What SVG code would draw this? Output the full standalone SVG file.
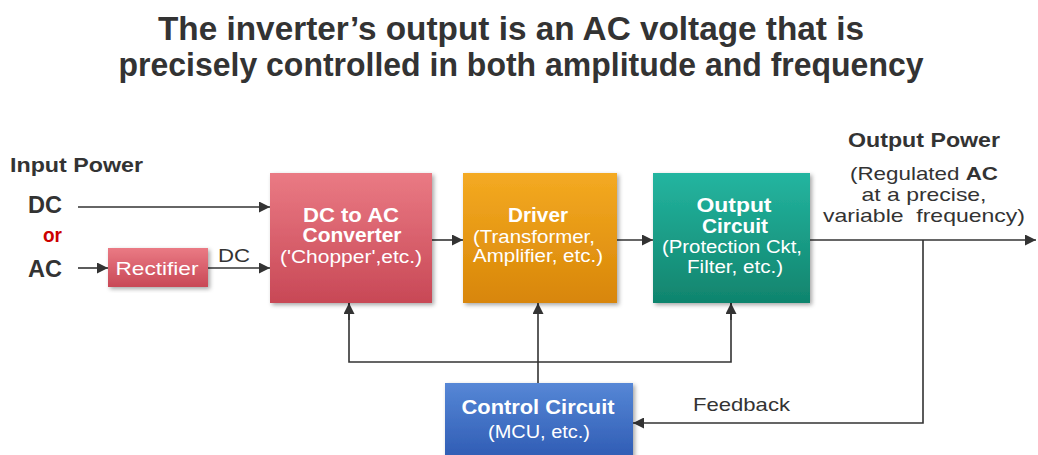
<svg xmlns="http://www.w3.org/2000/svg" width="1038" height="455" viewBox="0 0 1038 455">
<defs>
<linearGradient id="gRed" x1="0" y1="0" x2="0" y2="1"><stop offset="0" stop-color="#ea7a84"/><stop offset="1" stop-color="#c84856"/></linearGradient>
<linearGradient id="gOrg" x1="0" y1="0" x2="0" y2="1"><stop offset="0" stop-color="#f4aa22"/><stop offset="1" stop-color="#d88608"/></linearGradient>
<linearGradient id="gTeal" x1="0" y1="0" x2="0" y2="1"><stop offset="0" stop-color="#24b5a0"/><stop offset="1" stop-color="#10846d"/></linearGradient>
<linearGradient id="gBlue" x1="0" y1="0" x2="0" y2="1"><stop offset="0" stop-color="#5687d6"/><stop offset="1" stop-color="#2f5cb4"/></linearGradient>
<filter id="sh" x="-10%" y="-10%" width="125%" height="125%"><feDropShadow dx="2" dy="2" stdDeviation="2" flood-color="#000" flood-opacity="0.35"/></filter>
<marker id="arr" viewBox="0 0 10 10" refX="10" refY="5" markerWidth="12" markerHeight="11" markerUnits="userSpaceOnUse" orient="auto"><path d="M0,0 L10,5 L0,10 z" fill="#333"/></marker>
</defs>
<style>
text{font-family:"Liberation Sans",Arial,sans-serif}
.t{font-size:33px;font-weight:bold;fill:#333;text-anchor:middle}
.lb{font-size:20px;font-weight:bold;fill:#333}
.io{font-size:23px;font-weight:bold;fill:#333}
.n{font-size:19px;fill:#333}
.wb{font-size:20px;font-weight:bold;fill:#fff;text-anchor:middle}
.w{font-size:18px;fill:#fff;text-anchor:middle}
.c{fill:none;stroke:#333;stroke-width:1.6}
</style>
<rect width="1038" height="455" fill="#fff"/>
<text class="t" x="511" y="40" textLength="706" lengthAdjust="spacingAndGlyphs">The inverter’s output is an AC voltage that is</text>
<text class="t" x="521" y="76" textLength="805" lengthAdjust="spacingAndGlyphs">precisely controlled in both amplitude and frequency</text>

<g id="labels">
<text class="lb" x="10" y="172" textLength="133" lengthAdjust="spacingAndGlyphs">Input Power</text>
<text class="io" x="28" y="213" textLength="34" lengthAdjust="spacingAndGlyphs">DC</text>
<text class="io" x="43" y="242" style="fill:#cc0000;font-size:20px" textLength="19" lengthAdjust="spacingAndGlyphs">or</text>
<text class="io" x="28" y="277" textLength="34" lengthAdjust="spacingAndGlyphs">AC</text>
<text class="n" x="218" y="262" textLength="32" lengthAdjust="spacingAndGlyphs">DC</text>
<text class="lb" x="924" y="147" text-anchor="middle" textLength="152" lengthAdjust="spacingAndGlyphs">Output Power</text>
<text class="n" x="924" y="180" text-anchor="middle" textLength="148" lengthAdjust="spacingAndGlyphs">(Regulated <tspan font-weight="bold">AC</tspan></text>
<text class="n" x="924" y="201" text-anchor="middle" textLength="125" lengthAdjust="spacingAndGlyphs">at a precise,</text>
<text class="n" x="924" y="222" text-anchor="middle" xml:space="preserve" textLength="202" lengthAdjust="spacingAndGlyphs">variable  frequency)</text>
<text class="n" x="693" y="411" textLength="97" lengthAdjust="spacingAndGlyphs">Feedback</text>
</g>

<g id="connectors">
<line class="c" x1="78" y1="207" x2="270" y2="207" marker-end="url(#arr)"/>
<line class="c" x1="78" y1="268" x2="108" y2="268" marker-end="url(#arr)"/>
<line class="c" x1="208" y1="268" x2="270" y2="268" marker-end="url(#arr)"/>
<line class="c" x1="432" y1="240" x2="463" y2="240" marker-end="url(#arr)"/>
<line class="c" x1="617" y1="240" x2="653" y2="240" marker-end="url(#arr)"/>
<line class="c" x1="810" y1="240" x2="1036" y2="240" marker-end="url(#arr)"/>
<polyline class="c" points="923,240 923,423 633,423" marker-end="url(#arr)"/>
<line class="c" x1="538" y1="383" x2="538" y2="303" marker-end="url(#arr)"/>
<polyline class="c" points="349,303 349,362 731,362 731,303"/>
<line class="c" x1="349" y1="320" x2="349" y2="303" marker-end="url(#arr)"/>
<line class="c" x1="731" y1="320" x2="731" y2="303" marker-end="url(#arr)"/>
</g>

<g id="rectifier">
<rect x="108" y="248" width="100" height="39" fill="url(#gRed)" filter="url(#sh)"/>
<text class="w" x="157" y="275" style="font-size:19px" textLength="83" lengthAdjust="spacingAndGlyphs">Rectifier</text>
</g>
<g id="converter">
<rect x="270" y="173" width="162" height="130" fill="url(#gRed)" filter="url(#sh)"/>
<text class="wb" x="351" y="222" textLength="96" lengthAdjust="spacingAndGlyphs">DC to AC</text>
<text class="wb" x="352" y="242" textLength="99" lengthAdjust="spacingAndGlyphs">Converter</text>
<text class="w" x="351" y="263" textLength="142" lengthAdjust="spacingAndGlyphs">('Chopper',etc.)</text>
</g>
<g id="driver">
<rect x="463" y="173" width="154" height="130" fill="url(#gOrg)" filter="url(#sh)"/>
<text class="wb" x="538" y="222" textLength="60" lengthAdjust="spacingAndGlyphs">Driver</text>
<text class="w" x="534" y="243" textLength="122" lengthAdjust="spacingAndGlyphs">(Transformer,</text>
<text class="w" x="538" y="262" textLength="130" lengthAdjust="spacingAndGlyphs">Amplifier, etc.)</text>
</g>
<g id="output">
<rect x="653" y="173" width="157" height="130" fill="url(#gTeal)" filter="url(#sh)"/>
<text class="wb" x="734" y="212" textLength="75" lengthAdjust="spacingAndGlyphs">Output</text>
<text class="wb" x="735" y="233" textLength="66" lengthAdjust="spacingAndGlyphs">Circuit</text>
<text class="w" x="732" y="253" textLength="140" lengthAdjust="spacingAndGlyphs">(Protection Ckt,</text>
<text class="w" x="735" y="273" textLength="96" lengthAdjust="spacingAndGlyphs">Filter, etc.)</text>
</g>
<g id="control">
<rect x="445" y="383" width="188" height="75" fill="url(#gBlue)" filter="url(#sh)"/>
<text class="wb" x="538" y="414" textLength="153" lengthAdjust="spacingAndGlyphs">Control Circuit</text>
<text class="w" x="539" y="438" textLength="102" lengthAdjust="spacingAndGlyphs">(MCU, etc.)</text>
</g>
</svg>
